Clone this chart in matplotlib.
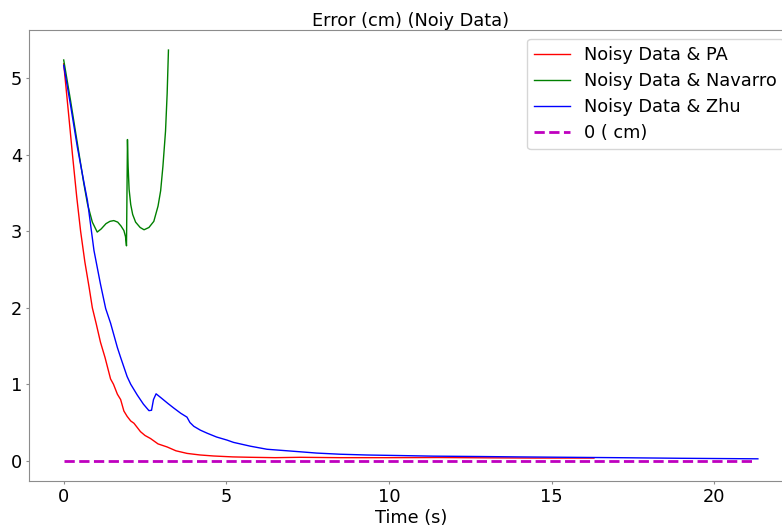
import matplotlib
matplotlib.use("Agg")
import matplotlib.pyplot as plt

# Noisy Data & PA (red)
t_pa = [0.0, 0.16, 0.27, 0.40, 0.52, 0.65, 0.78, 0.88, 1.0, 1.13, 1.27, 1.44, 1.53, 1.65,
        1.75, 1.85, 1.95, 2.06, 2.16, 2.36, 2.50, 2.67, 2.90, 3.18, 3.45, 3.79, 4.0, 4.2,
        4.61, 5.2, 5.74, 6.5, 7.27, 8.5, 10.0, 11.5, 13.0, 14.5, 16.3]
v_pa = [5.19, 4.49, 4.00, 3.45, 3.00, 2.60, 2.27, 2.00, 1.79, 1.55, 1.35, 1.07, 1.00, 0.87,
        0.80, 0.65, 0.58, 0.52, 0.49, 0.38, 0.33, 0.29, 0.22, 0.18, 0.13, 0.096, 0.085, 0.075,
        0.062, 0.05, 0.045, 0.04, 0.045, 0.04, 0.04, 0.042, 0.038, 0.035, 0.035]

# Noisy Data & Navarro (green)
t_nav = [0.0, 0.21, 0.42, 0.62, 0.73, 0.88, 1.03, 1.15, 1.30, 1.42, 1.54, 1.66, 1.76,
         1.85, 1.90, 1.93, 1.96, 1.98, 2.01, 2.06, 2.12, 2.21, 2.35, 2.47, 2.62, 2.77,
         2.90, 2.98, 3.05, 3.13, 3.18, 3.22]
v_nav = [5.24, 4.71, 4.15, 3.62, 3.36, 3.12, 2.99, 3.03, 3.10, 3.13, 3.14, 3.12, 3.07,
         3.01, 2.93, 2.81, 4.20, 3.85, 3.55, 3.35, 3.22, 3.12, 3.05, 3.02, 3.05, 3.13,
         3.33, 3.53, 3.85, 4.31, 4.80, 5.37]

# Noisy Data & Zhu (blue)
t_zhu = [0.0, 0.21, 0.42, 0.63, 0.73, 0.93, 1.13, 1.29, 1.44, 1.65, 1.75, 1.95, 2.06,
         2.26, 2.45, 2.62, 2.70, 2.76, 2.84, 3.0, 3.2, 3.38, 3.6, 3.79, 3.88, 4.0, 4.2,
         4.41, 4.7, 5.02, 5.22, 5.74, 6.25, 7.27, 7.78, 8.5, 9.32, 10.3, 11.36, 12.8,
         14.0, 15.5, 17.0, 19.0, 21.34]
v_zhu = [5.17, 4.65, 4.10, 3.62, 3.40, 2.75, 2.31, 1.99, 1.80, 1.48, 1.35, 1.10, 1.00,
         0.86, 0.74, 0.655, 0.66, 0.80, 0.875, 0.82, 0.75, 0.69, 0.62, 0.57, 0.50, 0.45,
         0.40, 0.36, 0.31, 0.27, 0.24, 0.19, 0.15, 0.117, 0.10, 0.085, 0.075, 0.068, 0.06,
         0.055, 0.05, 0.045, 0.04, 0.032, 0.025]

# Zero reference line
t_zero = [0.0, 21.26]
v_zero = [0.0, 0.0]

labels = ["Noisy Data & PA", "Noisy Data & Navarro", "Noisy Data & Zhu", "0 ( cm)"]

fs = 12.8
fig = plt.figure(figsize=(7.82, 5.26), dpi=100)
ax = fig.add_axes([0.03708, 0.08555, 0.9766, 0.8574])

ax.plot(t_pa, v_pa, color='r', lw=1.0, label=labels[0])
ax.plot(t_nav, v_nav, color='g', lw=1.0, label=labels[1])
ax.plot(t_zhu, v_zhu, color='b', lw=1.0, label=labels[2])
ax.plot(t_zero, v_zero, 'm--', lw=2.0, label=labels[3])

ax.set_xlim(-1.067, 22.41)
ax.set_ylim(-0.265, 5.632)
ax.set_xticks([0, 5, 10, 15, 20])
ax.set_yticks([0, 1, 2, 3, 4, 5])
ax.tick_params(labelsize=fs, color='#8c8c8c', length=2.5, pad=2.5)
for s in ax.spines.values():
    s.set_color('#8c8c8c')

ax.set_title("Error (cm) (Noiy Data)", fontsize=fs, pad=2)
ax.set_xlabel("Time (s)", fontsize=fs, labelpad=2)
ax.legend(loc='upper right', fontsize=fs, labelspacing=0.45)

fig.savefig("out.png", dpi=100)
